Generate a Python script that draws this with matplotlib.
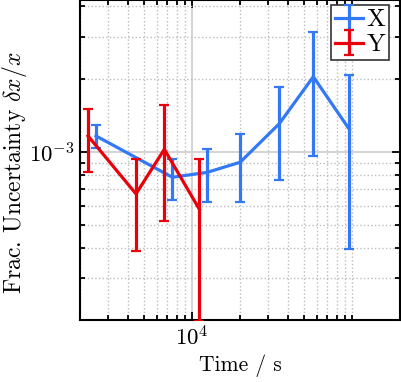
import numpy as np
import matplotlib
matplotlib.use("Agg")
import matplotlib.pyplot as plt
from matplotlib.ticker import LogLocator, NullFormatter

# series X (blue)
t_x = [2512, 7535, 12460, 20000, 35100, 57300, 96200]
u_x = [1.165e-3, 7.86e-4, 8.24e-4, 9.07e-4, 1.309e-3, 2.047e-3, 1.241e-3]
e_x = [0.125e-3, 0.152e-3, 0.205e-3, 0.285e-3, 0.543e-3, 1.08e-3, 0.845e-3]

# series Y (red)
t_y = [2239, 4467, 6714, 11110]
u_y = [1.165e-3, 6.71e-4, 1.026e-3, 5.80e-4]
e_y_lo = [0.338e-3, 0.280e-3, 0.506e-3, 0.380e-3]
e_y_hi = [0.345e-3, 0.262e-3, 0.538e-3, 0.358e-3]

x_major = [1e4]
y_major = [1e-3]

plt.rcParams['font.family'] = 'serif'
plt.rcParams['font.serif'] = ['cmr10']
plt.rcParams['mathtext.fontset'] = 'cm'
plt.rcParams['axes.formatter.use_mathtext'] = True
plt.rcParams['axes.unicode_minus'] = False
plt.rcParams['font.size'] = 15

fig = plt.figure(figsize=(4.02, 3.82), dpi=100)
ax = fig.add_axes([80/402, 62/382, 320/402, 320/382])

ax.errorbar(t_x, u_x, yerr=e_x, color='#3378f5', lw=2.3, capsize=3.5,
            capthick=1.6, elinewidth=2.3, label='X', zorder=3)
ax.errorbar(t_y, u_y, yerr=[e_y_lo, e_y_hi], color='#e8000b', lw=2.3,
            capsize=3.5, capthick=1.6, elinewidth=2.3, label='Y', zorder=4)

ax.set_xscale('log')
ax.set_yscale('log')
ax.set_xlim(1995, 1.995e5)
ax.set_ylim(2.02e-4, 4.25e-3)

ax.set_xticks(x_major)
ax.set_yticks(y_major)
ax.xaxis.set_minor_locator(LogLocator(base=10, subs=np.arange(1, 10), numticks=20))
ax.yaxis.set_minor_locator(LogLocator(base=10, subs=np.arange(1, 10), numticks=20))
ax.xaxis.set_minor_formatter(NullFormatter())
ax.yaxis.set_minor_formatter(NullFormatter())

ax.grid(True, which='major', color='#d4d4d4', lw=1.4, ls='-')
ax.grid(True, which='minor', color='#bdbdbd', lw=1.0, ls=':')
ax.set_axisbelow(True)

ax.tick_params(which='both', direction='in', top=True, right=True, width=1.3,
               labelsize=16.5)
ax.tick_params(which='major', length=6)
ax.tick_params(which='minor', length=3.5)
for s in ax.spines.values():
    s.set_linewidth(1.5)

ax.set_xlabel('Time / s', fontsize=15.5)
ax.set_ylabel(r'Frac. Uncertainty $\delta x/x$', fontsize=17)
ax.yaxis.set_label_coords(-0.16, 0.46)

leg = ax.legend(loc='upper right', bbox_to_anchor=(1 - 11/320, 1 - 5/320),
                borderaxespad=0, fancybox=False, framealpha=1,
                edgecolor='#333333', handlelength=1.1, handletextpad=0.15,
                borderpad=0.15, labelspacing=0.1, fontsize=18)
leg.get_frame().set_linewidth(1.2)

fig.savefig('out.png', dpi=100)
